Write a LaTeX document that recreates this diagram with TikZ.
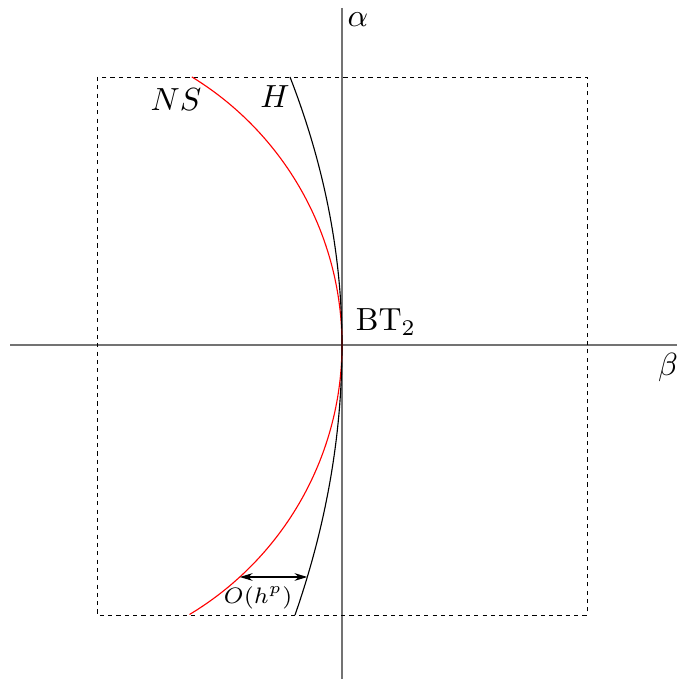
\documentclass[tikz,border=0pt]{standalone}
\usetikzlibrary{arrows.meta}
\begin{document}
\begin{tikzpicture}[x=0.3125pt,y=-0.3125pt,
  axis/.style={draw=black!55,line width=0.55pt},
  boxline/.style={draw=black,line width=0.3pt,dash pattern=on 1.3pt off 1.3pt},
  curveline/.style={line width=0.35pt},
  lbl/.style={inner sep=0pt}]
\useasboundingbox (0,0) rectangle (677,679);
% axes
\coordinate (vtop) at (342,8);
\coordinate (vbot) at (342,679);
\coordinate (hl) at (10,345);
\coordinate (hr) at (677,345);
\draw[axis] (vtop) -- (vbot);
\draw[axis] (hl) -- (hr);
% dashed box
\coordinate (b1) at (97,77);
\coordinate (b2) at (587,615);
\draw[boxline] (b1) rectangle (b2);
% NS curve (circle arc)
\draw[curveline,red] plot[domain=-58.5:59.0,samples=80,smooth] ({27.6+314.4*cos(\x)},{345+314.4*sin(\x)});
% H curve
\draw[curveline] plot[domain=0:268,samples=50,smooth] ({342-52*(\x/268)^2},{345-\x});
\draw[curveline] plot[domain=0:270,samples=50,smooth] ({342-47*(\x/270)^2},{345+\x});
% O(h^p) arrow
\coordinate (ol) at (239.8,577);
\coordinate (or) at (307.3,577);
\draw[curveline,{Stealth[length=4pt,width=2.4pt]}-{Stealth[length=4pt,width=2.4pt]}] (ol) -- (or);
% labels
\node[lbl] (alpha) at (358,20) {$\alpha$};
\node[lbl] (beta) at (668,368) {$\beta$};
\node[lbl] (ns) at (176,100) {$NS$};
\node[lbl] (h) at (275,97) {$H$};
\node[lbl] (bt) at (386,322) {$\mathrm{BT}_2$};
\node[lbl] (o) at (258,598) {\scriptsize $O(h^p)$};
\end{tikzpicture}
\end{document}
